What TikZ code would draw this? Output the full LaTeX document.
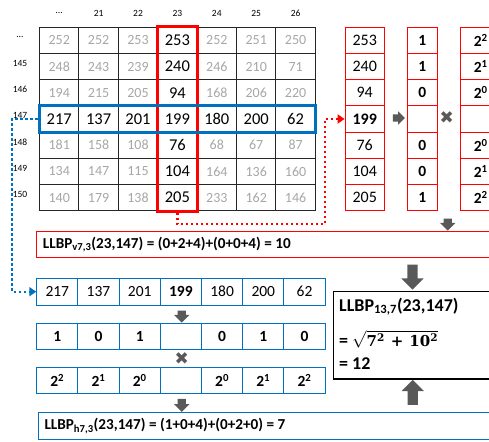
\documentclass[tikz,border=0pt]{standalone}
\usepackage{fontspec}
\setmainfont{Carlito}
\newfontfamily\dejavu{DejaVu Sans}
\newfontfamily\mathlike{DejaVu Serif}
\usetikzlibrary{shapes.arrows,arrows.meta,fit}
\definecolor{cellgray}{HTML}{A6A6A6}
\definecolor{arrowgray}{HTML}{595959}
\definecolor{myblue}{HTML}{0070C0}
\definecolor{myred}{HTML}{FF0000}
\newcommand{\fsz}[1]{\fontsize{#1}{#1}\selectfont}
\tikzset{
 gcell/.style={draw=black!85, line width=0.9pt, minimum width=39.4pt, minimum height=26.2pt, inner sep=0pt},
 hdr/.style={font=\fsz{9.5}, inner sep=0pt},
 rcell/.style={draw=myred, line width=0.9pt, minimum height=26.2pt, inner sep=0pt},
 bcell/.style={draw=myblue, line width=0.9pt, minimum width=41.2pt, inner sep=0pt},
 garrow/.style 2 args={single arrow, fill=arrowgray, draw=none, inner xsep=0pt, inner ysep=#1, single arrow head extend=#2},
 crossmark/.style={text=arrowgray, font=\dejavu\fsz{17}, inner sep=0pt},
 reddot/.style={myred, line width=2.2pt, dash pattern=on 2.2pt off 2.8pt, -{Triangle[length=7pt,width=9pt]}},
 bluedot/.style={myblue, line width=2.2pt, dash pattern=on 2.2pt off 2.8pt, -{Triangle[length=7pt,width=9pt]}},
 resbox/.style={minimum height=26pt, minimum width=470pt, inner sep=0pt, anchor=west},
 restext/.style={anchor=west, inner sep=0pt, font=\bfseries\fsz{15.2}},
 bigtext/.style={anchor=west, inner sep=0pt, font=\bfseries\fsz{18}},
}
\begin{document}
\begin{tikzpicture}[x=1pt,y=-1pt]
\useasboundingbox (0,0) rectangle (489,441);
\clip (0,0) rectangle (489,441);
% headers
\node[hdr] (h0) at (59.2,13.3) {…};
\foreach \h [count=\c from 1] in {21,22,23,24,25,26}
  \node[hdr] (h\c) at ({59.2+39.4*\c},13.3) {\h};
\node[hdr] (l0) at (20,37) {…};
\foreach \h [count=\r from 1] in {145,146,147,148,149,150}
  \node[hdr] (l\r) at (20,{37+26.2*\r}) {\h};
% grid
\foreach \rowvals [count=\r from 0] in {{252,252,253,253,252,251,250},{248,243,239,240,246,210,71},{194,215,205,94,168,206,220},{217,137,201,199,180,200,62},{181,158,108,76,68,67,87},{134,147,115,104,164,136,160},{140,179,138,205,233,162,146}} {
  \foreach \v [count=\c from 0] in \rowvals {
    \ifnum\c=3 \def\tc{black}\def\fs{\fsz{16.5}}\else\ifnum\r=3 \def\tc{black}\def\fs{\fsz{16.5}}\else\def\tc{cellgray}\def\fs{\fsz{14}}\fi\fi
    \node[gcell, text=\tc, font=\fs] (g\r\c) at ({59.2+39.4*\c},{40.4+26.2*\r}) {\v};
  }
}
\node[fit=(g03)(g63), draw=myred, line width=3.3pt, inner sep=0pt] (redcol) {};
\node[fit=(g30)(g36), draw=myblue, line width=3pt, inner sep=0pt] (bluebox) {};
% red vectors
\foreach \v [count=\r from 0] in {253,240,94,{\bfseries 199},76,104,205}
  \node[rcell, minimum width=39.3pt, font=\fsz{16}] (v1\r) at (364.7,{40.4+26.2*\r}) {\v};
\foreach \v [count=\r from 0] in {1,1,0,{},0,0,1}
  \node[rcell, minimum width=30.3pt, font=\bfseries\fsz{15.5}] (v2\r) at (422.2,{40.4+26.2*\r}) {\v};
\foreach \v [count=\r from 0] in {2\textsuperscript{2},2\textsuperscript{1},2\textsuperscript{0},{},2\textsuperscript{0},2\textsuperscript{1},2\textsuperscript{2}}
  \node[rcell, minimum width=40pt, font=\bfseries\fsz{15.5}] (v3\r) at (480.7,{40.4+26.2*\r}) {\makebox[24pt]{\v}\hspace{16pt}};
% blue rows
\foreach \v [count=\c from 0] in {217,137,201,{\bfseries 199},180,200,62}
  \node[bcell, minimum height=26.7pt, font=\fsz{15.5}] (b1\c) at ({57.3+41.2*\c},291.7) {\v};
\foreach \v [count=\c from 0] in {1,0,1,{},0,1,0}
  \node[bcell, minimum height=26pt, font=\bfseries\fsz{15.5}] (b2\c) at ({57.3+41.2*\c},336.3) {\v};
\foreach \v [count=\c from 0] in {2\textsuperscript{2},2\textsuperscript{1},2\textsuperscript{0},{},2\textsuperscript{0},2\textsuperscript{1},2\textsuperscript{2}}
  \node[bcell, minimum height=25.7pt, font=\bfseries\fsz{15.5}] (b3\c) at ({57.3+41.2*\c},380.5) {\v};
% result boxes
\node[resbox] (llbpv) at (36.7,244.5) {};
\draw[draw=myred, line width=1.2pt] (llbpv.north west) rectangle (llbpv.south east);
\node[restext] (llbpvt) at (42.7,244.5) {LLBP\textsubscript{v7,3}(23,147) = (0+2+4)+(0+0+4) = 10};
\node[resbox] (llbph) at (38.3,426) {};
\draw[draw=myblue, line width=1.2pt] (llbph.north west) rectangle (llbph.south east);
\node[restext] (llbpht) at (44.3,426) {LLBP\textsubscript{h7,3}(23,147) = (1+0+4)+(0+2+0) = 7};
\node[draw=black, line width=1.2pt, anchor=north west, minimum height=87.3pt, minimum width=200pt, inner sep=0pt] (llbp) at (332.7,291) {};
\node[bigtext] (llbp1) at (339,306.5) {LLBP\textsubscript{13,7}(23,147)};
\node[bigtext] (llbp2) at (339,339.5) {= $\sqrt{\mbox{\mathlike\bfseries\fsz{15}7\textsuperscript{2}\hspace{6pt}+\hspace{6pt}10\textsuperscript{2}}}$};
\node[bigtext] (llbp3) at (339,364) {= 12};
% gray arrows
\node[garrow={3.5pt}{3pt}, minimum height=12pt] (a1) at (397,118) {};
\node[crossmark] (x1) at (446.7,118) {✖};
\node[garrow={4pt}{3.5pt}, minimum height=12pt, rotate=-90] (a2) at (447.7,222.5) {};
\node[garrow={5pt}{6pt}, minimum height=25pt, rotate=-90] (a3) at (412.5,274.5) {};
\node[garrow={5pt}{6pt}, minimum height=25pt, rotate=90] (a4) at (412.7,395) {};
\node[garrow={4pt}{3.5pt}, minimum height=12pt, rotate=-90] (a5) at (181.7,314.5) {};
\node[crossmark] (x2) at (181.7,358.5) {✖};
\node[garrow={4pt}{3.5pt}, minimum height=13pt, rotate=-90] (a6) at (181.7,403.3) {};
% dotted connectors
\coordinate (rdc) at (325,224);
\draw[reddot] (redcol.south) |- (rdc) |- (v13.west);
\coordinate (bdc) at (12,291.7);
\draw[bluedot] (bluebox.west) -| (bdc) -- (b10.west);
\end{tikzpicture}
\end{document}
